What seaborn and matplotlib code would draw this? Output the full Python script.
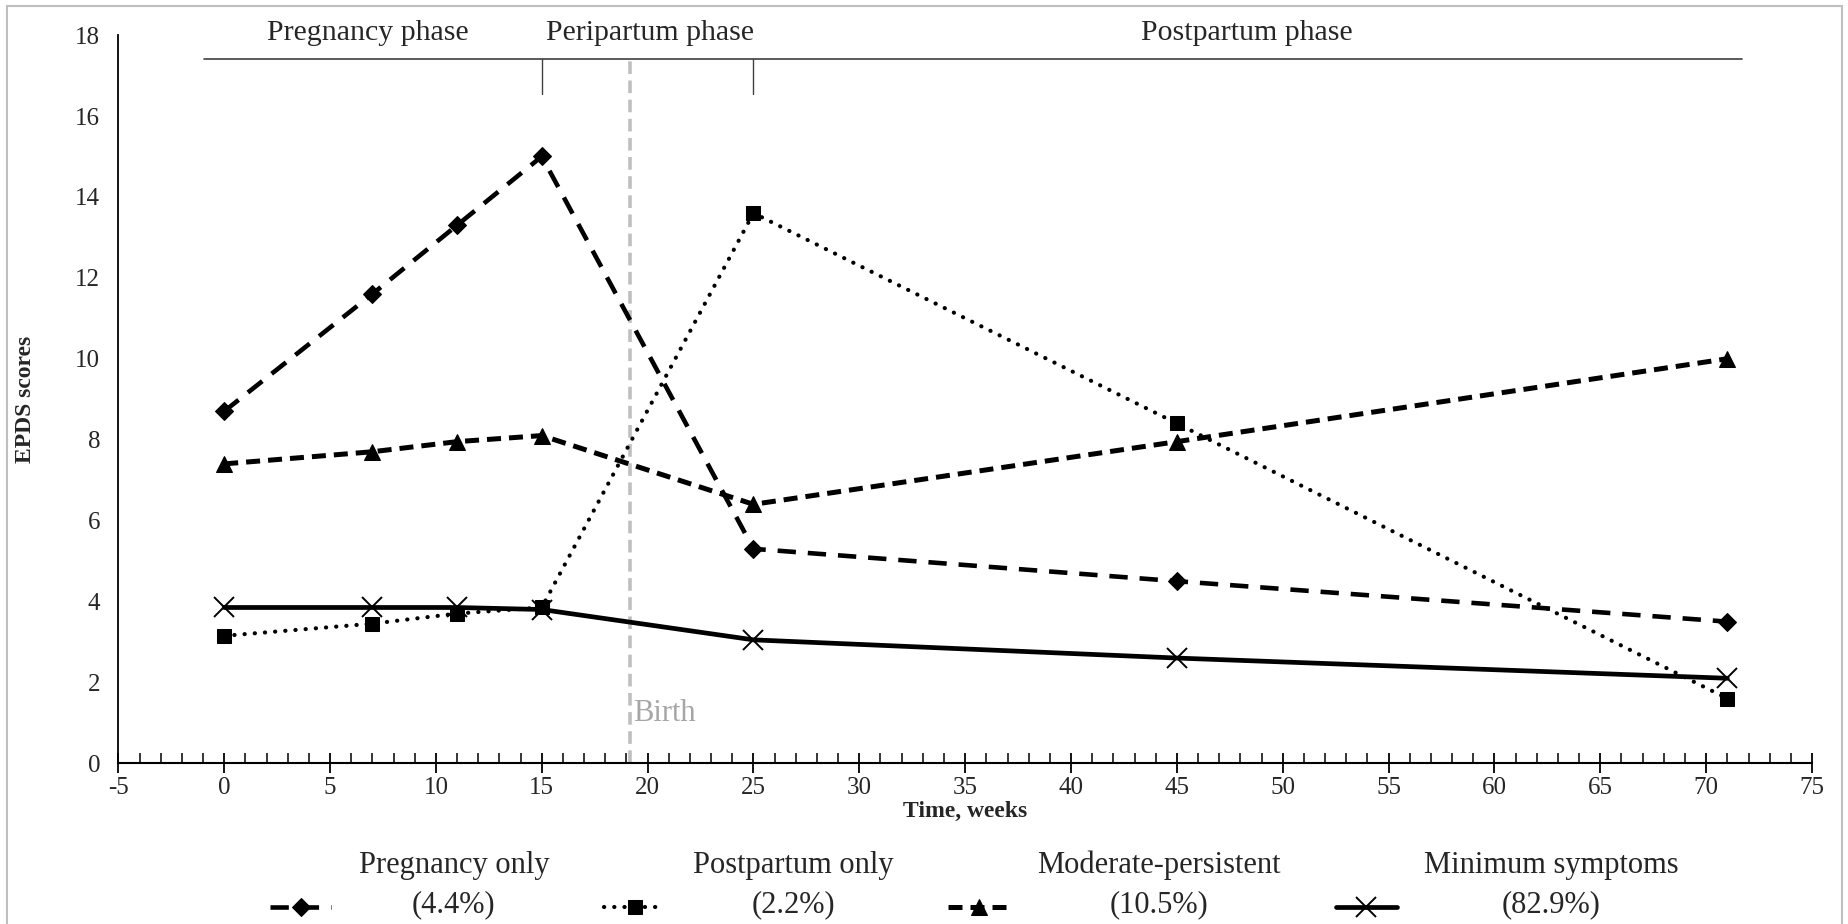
import numpy as np
import pandas as pd
import matplotlib
matplotlib.use("Agg")
import matplotlib.pyplot as plt
from matplotlib.ticker import MultipleLocator
from matplotlib.patches import Rectangle
from matplotlib.lines import Line2D
from matplotlib.legend_handler import HandlerLine2D
import seaborn as sns

# data
weeks = [0, 7, 11, 15, 25, 45, 71]
pregnancy_only = [8.7, 11.6, 13.3, 15.0, 5.3, 4.5, 3.5]
postpartum_only = [3.15, 3.45, 3.7, 3.85, 13.6, 8.4, 1.6]
moderate_persistent = [7.4, 7.7, 7.95, 8.1, 6.4, 7.95, 10.0]
minimum_symptoms = [3.85, 3.85, 3.85, 3.8, 3.05, 2.6, 2.1]

group_labels = ["Pregnancy only\n(4.4%)", "Postpartum only\n(2.2%)",
                "Moderate-persistent\n(10.5%)", "Minimum symptoms\n(82.9%)"]

phase_names = ["Pregnancy phase", "Peripartum phase", "Postpartum phase"]
phase_centers = [6.8, 20.1, 48.3]
phase_bounds = [15, 25]
phase_span = [-0.95, 71.7]
birth_week = 19.15


class LowHandler(HandlerLine2D):
    # put the legend sample on the level of the second label line
    def create_artists(self, legend, orig_handle, xdescent, ydescent, width,
                       height, fontsize, trans):
        arts = super().create_artists(legend, orig_handle, xdescent, ydescent,
                                      width, height, fontsize, trans)
        for a in arts:
            a.set_ydata(np.asarray(a.get_ydata(), dtype=float) - 0.7 * fontsize)
        return arts


sns.set_style("ticks")
plt.rcParams["font.family"] = ["Liberation Serif", "DejaVu Serif"]
plt.rcParams["axes.unicode_minus"] = False

df = pd.DataFrame({
    "week": weeks * 4,
    "score": pregnancy_only + postpartum_only + moderate_persistent + minimum_symptoms,
    "group": np.repeat(group_labels, len(weeks)),
})

styles = {
    group_labels[0]: dict(marker="D", markersize=9, linewidth=3.3, dashes=(4.0, 2.6)),
    group_labels[1]: dict(marker="s", markersize=10, linewidth=3.0, dashes=(0.05, 2.4),
                          dash_capstyle="round"),
    group_labels[2]: dict(marker="^", markersize=11, linewidth=3.6, dashes=(2.8, 1.6)),
    group_labels[3]: dict(marker="x", markersize=14, markeredgewidth=1.4, linewidth=3.4),
}

fig, ax = plt.subplots(figsize=(18.49, 9.24), dpi=100)
fig.subplots_adjust(left=0.064, right=0.980, bottom=0.174, top=0.962)

for name in group_labels:
    sub = df[df["group"] == name]
    st = dict(styles[name])
    dashes = st.pop("dashes", None)
    cap = st.pop("dash_capstyle", None)
    sns.lineplot(data=sub, x="week", y="score", ax=ax, color="black",
                 label=name, markeredgecolor="black", **st)
    l = ax.get_lines()[-1]
    if dashes is not None:
        l.set_dashes(dashes)
    if cap is not None:
        l.set_dash_capstyle(cap)

# birth marker
ax.plot([birth_week, birth_week], [0, 17.42], color="#bfbfbf", lw=2.6,
        dashes=(3.5, 1.8), zorder=1)
ax.text(birth_week + 0.15, 1.22, "Birth", color="#a6a6a6", fontsize=22,
        ha="left", va="center")

# phase brackets
ax.plot(phase_span, [17.42, 17.42], color="#404040", lw=1.2, clip_on=False)
for b in phase_bounds:
    ax.plot([b, b], [16.55, 17.42], color="#404040", lw=1.0)
for name, xc in zip(phase_names, phase_centers):
    ax.text(xc, 18.05, name, fontsize=21.5, ha="center", va="center", clip_on=False)

ax.set_xlim(-5, 75)
ax.set_ylim(0, 18)
ax.xaxis.set_major_locator(MultipleLocator(5))
ax.xaxis.set_minor_locator(MultipleLocator(1))
ax.yaxis.set_major_locator(MultipleLocator(2))
ax.tick_params(axis="x", which="major", direction="inout", length=14, width=1.3,
               labelsize=18, pad=3, color="black")
ax.tick_params(axis="x", which="minor", direction="in", length=7, width=1.1, color="black")
ax.tick_params(axis="y", length=0, labelsize=18, pad=13)
for s in ["top", "right"]:
    ax.spines[s].set_visible(False)
ax.spines["left"].set_color("black")
ax.spines["left"].set_linewidth(1.3)
ax.spines["bottom"].set_color("black")
ax.spines["bottom"].set_linewidth(1.5)

ax.set_xlabel("Time, weeks", fontsize=17, fontweight="bold", labelpad=1)
ax.set_ylabel("EPDS scores", fontsize=17, fontweight="bold", labelpad=28)

handles, labels = ax.get_legend_handles_labels()
ax.get_legend().remove()
leg = fig.legend(handles, labels, loc="center", bbox_to_anchor=(0.527, 0.042), ncol=4,
                 frameon=False, fontsize=22, handlelength=2.0, columnspacing=1.8,
                 handletextpad=0.9, borderaxespad=0,
                 handler_map={Line2D: LowHandler()})
for t in leg.get_texts():
    t.set_multialignment("center")
    t.set_linespacing(1.45)

fig.patches.append(Rectangle((0.004, -0.01), 0.992, 1.004, transform=fig.transFigure,
                             fill=False, edgecolor="#bfbfbf", lw=1.5))

fig.savefig("out.png", dpi=100)
